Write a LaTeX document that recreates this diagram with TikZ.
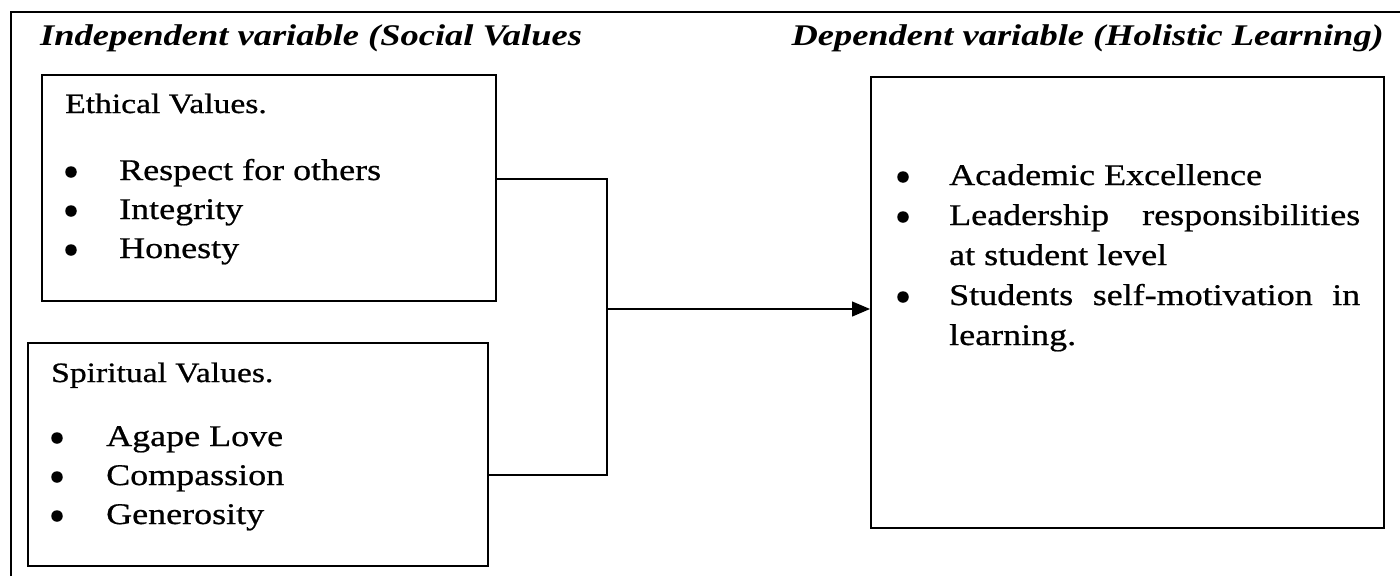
\documentclass[tikz,border=0pt]{standalone}
\usepackage{fontspec}
\setmainfont{Liberation Serif}[FakeStretch=1.2,UprightFeatures={FakeBold=0.7}]
\newfontfamily\headfamily{Liberation Serif}[FakeStretch=1.215]
\usetikzlibrary{arrows.meta}
\newcommand{\bodyf}{\fontsize{30}{40}\selectfont}
\newcommand{\subf}{\fontsize{28}{34}\selectfont}
\newcommand{\headf}{\headfamily\fontsize{30}{36}\selectfont\bfseries\itshape}
\begin{document}
\begin{tikzpicture}[x=1pt,y=-1pt,
  box/.style={draw=black,line width=1.7pt,inner sep=0pt,anchor=north west},
  txt/.style={inner sep=0pt,anchor=base west,font=\bodyf},
  sub/.style={inner sep=0pt,anchor=base west,font=\subf},
  bul/.style={circle,fill=black,inner sep=0pt,minimum size=11.5pt},
  head/.style={inner sep=0pt,font=\headf},
  conn/.style={draw=black,line width=1.3pt}]
\useasboundingbox (0,0) rectangle (1400,576);
% outer frame (partial)
\draw[line width=2pt] (11,576) -- (11,12) -- (1400,12);
% headers
\node[head,anchor=base west] (hl) at (40,45) {Independent variable (Social Values};
\node[head,anchor=base east] (hr) at (1384,45) {Dependent variable (Holistic Learning)};
% boxes
\node[box,minimum width=454pt,minimum height=226pt] (eth) at (41,74) {};
\node[box,minimum width=460pt,minimum height=223pt] (spi) at (27,342) {};
\node[box,minimum width=513pt,minimum height=451pt] (hol) at (870,76) {};
% ethical content
\node[sub] (etht) at (65,113) {Ethical Values.};
\node[bul] (eb1) at (71,172) {};
\node[bul] (eb2) at (71,211) {};
\node[bul] (eb3) at (71,250) {};
\node[txt] (ei1) at (119,180) {Respect for others};
\node[txt] (ei2) at (119,219) {Integrity};
\node[txt] (ei3) at (119,258) {Honesty};
% spiritual content
\node[sub] (spit) at (51,382) {Spiritual Values.};
\node[bul] (sb1) at (57,438) {};
\node[bul] (sb2) at (57,477) {};
\node[bul] (sb3) at (57,516) {};
\node[txt] (si1) at (106,446) {Agape Love};
\node[txt] (si2) at (106,485) {Compassion};
\node[txt] (si3) at (106,524) {Generosity};
% holistic content
\node[bul] (hb1) at (903,177) {};
\node[bul] (hb2) at (903,217) {};
\node[bul] (hb3) at (903,297) {};
\node[txt] (hi1) at (949,185) {Academic Excellence};
\node[txt] (hi2) at (949,225) {\makebox[411pt][s]{Leadership responsibilities}};
\node[txt] (hi2b) at (949,265) {at student level};
\node[txt] (hi3) at (949,305) {\makebox[411pt][s]{Students self-motivation in}};
\node[txt] (hi3b) at (949,345) {learning.};
% connectors
\coordinate (jt) at (607,179);
\coordinate (jb) at (607,475);
\coordinate (jm) at (607,309);
\draw[conn] (eth.east |- jt) -- (jt) -- (jb) -- (spi.east |- jb);
\draw[conn,-{Triangle[length=18pt,width=15pt]}] (jm) -- (hol.west |- jm);
\end{tikzpicture}
\end{document}
